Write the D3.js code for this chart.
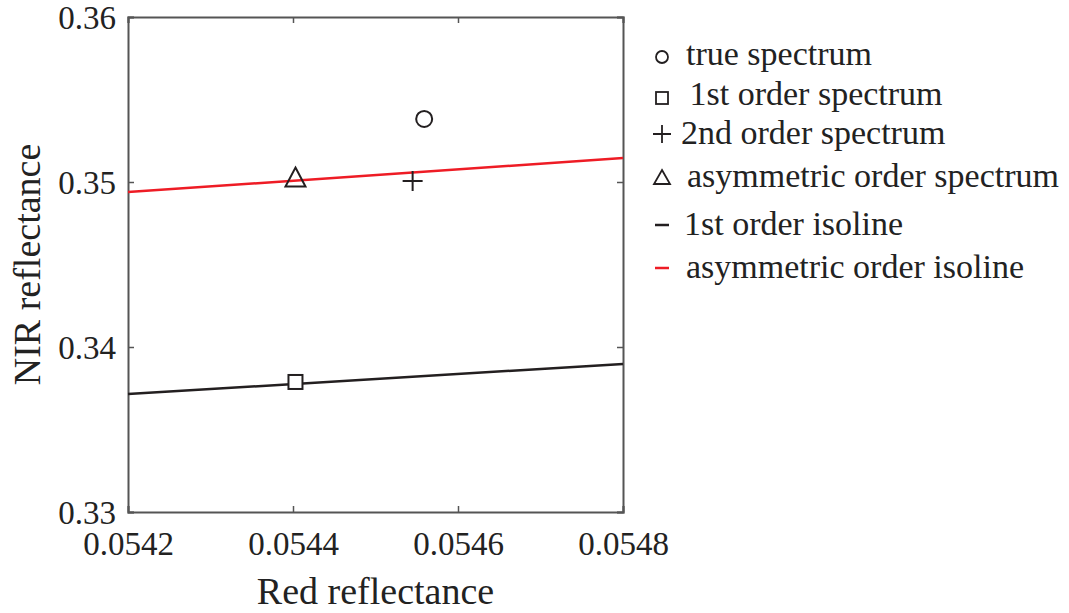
<!DOCTYPE html>
<html>
<head>
<meta charset="utf-8">
<script src="https://cdn.jsdelivr.net/npm/d3@7"></script>
<style>
  body { margin: 0; background: #fff; }
  text { font-family: "Liberation Serif", "Times New Roman", serif; fill: #222; }
</style>
</head>
<body>
<svg id="chart" width="1069" height="613"></svg>
<script>
// Spectrum points (red reflectance, NIR reflectance)
const trueSpectrum = [[0.054559, 0.35382]];
const firstOrderSpectrum = [[0.054403, 0.33788]];
const secondOrderSpectrum = [[0.054545, 0.35006]];
const asymmetricSpectrum = [[0.054403, 0.35015]];
// Isolines: endpoints across the red-reflectance range
const firstOrderIsoline = [[0.0542, 0.33715], [0.0548, 0.33897]];
const asymmetricIsoline = [[0.0542, 0.34939], [0.0548, 0.35145]];

const xTicks = [0.0542, 0.0544, 0.0546, 0.0548];
const yTicks = [0.33, 0.34, 0.35, 0.36];
const legendLabels = ["true spectrum", " 1st order spectrum", "2nd order spectrum",
  "asymmetric order spectrum", "1st order isoline", "asymmetric order isoline"];

const svg = d3.select("#chart");
const plotLeft = 128, plotRight = 623, plotTop = 17, plotBottom = 512;

const x = d3.scaleLinear().domain([0.0542, 0.0548]).range([plotLeft, plotRight]);
const y = d3.scaleLinear().domain([0.33, 0.36]).range([plotBottom, plotTop]);

const axisColor = "#555";
const tickLen = 6;

// Axes with inward ticks
const gx = svg.append("g").attr("transform", `translate(0,${plotBottom})`)
  .call(d3.axisBottom(x).tickValues(xTicks).tickSize(-tickLen).tickPadding(20)
    .tickFormat(d3.format(".4f")));
const gy = svg.append("g").attr("transform", `translate(${plotLeft},0)`)
  .call(d3.axisLeft(y).tickValues(yTicks).tickSize(-tickLen).tickPadding(12)
    .tickFormat(d3.format(".2f")));
const gxt = svg.append("g").attr("transform", `translate(0,${plotTop})`)
  .call(d3.axisTop(x).tickValues(xTicks).tickSize(-tickLen).tickFormat(""));
const gyr = svg.append("g").attr("transform", `translate(${plotRight},0)`)
  .call(d3.axisRight(y).tickValues(yTicks).tickSize(-tickLen).tickFormat(""));

[gx, gy, gxt, gyr].forEach(g => {
  g.select(".domain").attr("stroke", axisColor).attr("stroke-width", 2);
  g.selectAll(".tick line").attr("stroke", axisColor).attr("stroke-width", 1.5);
  g.selectAll(".tick text").attr("fill", "#222")
    .style("font-family", "'Liberation Serif', 'Times New Roman', serif")
    .style("font-size", "33px");
});
gx.selectAll(".tick text").attr("dy", "0.71em");
gy.selectAll(".tick text").attr("dy", "0.35em");

// Axis titles
svg.append("text").attr("x", (plotLeft + plotRight) / 2).attr("y", 604)
  .attr("text-anchor", "middle").style("font-size", "38px").text("Red reflectance");
svg.append("text").attr("transform", `translate(40,${(plotTop + plotBottom) / 2}) rotate(-90)`)
  .attr("text-anchor", "middle").style("font-size", "38px").text("NIR reflectance");

// Isolines
const line = d3.line().x(d => x(d[0])).y(d => y(d[1]));
svg.append("path").datum(firstOrderIsoline).attr("d", line)
  .attr("fill", "none").attr("stroke", "#231f20").attr("stroke-width", 2.5);
svg.append("path").datum(asymmetricIsoline).attr("d", line)
  .attr("fill", "none").attr("stroke", "#ee1c25").attr("stroke-width", 2.5);

// Markers
const mStroke = "#231f20";
function drawMarker(g, type, cx, cy) {
  if (type === "circle") {
    g.append("circle").attr("cx", cx).attr("cy", cy).attr("r", 8)
      .attr("fill", "none").attr("stroke", mStroke).attr("stroke-width", 2);
  } else if (type === "square") {
    g.append("rect").attr("x", cx - 7).attr("y", cy - 7).attr("width", 14).attr("height", 14)
      .attr("fill", "#fff").attr("stroke", mStroke).attr("stroke-width", 2);
  } else if (type === "plus") {
    g.append("path").attr("d", `M${cx - 10},${cy}H${cx + 10}M${cx},${cy - 10}V${cy + 10}`)
      .attr("stroke", mStroke).attr("stroke-width", 2);
  } else if (type === "triangle") {
    g.append("path").attr("d", `M${cx},${cy - 12}L${cx + 10},${cy + 7}L${cx - 10},${cy + 7}Z`)
      .attr("fill", "none").attr("stroke", mStroke).attr("stroke-width", 2);
  }
}
const marks = svg.append("g");
trueSpectrum.forEach(d => drawMarker(marks, "circle", x(d[0]), y(d[1])));
firstOrderSpectrum.forEach(d => drawMarker(marks, "square", x(d[0]), y(d[1])));
secondOrderSpectrum.forEach(d => drawMarker(marks, "plus", x(d[0]), y(d[1])));
asymmetricSpectrum.forEach(d => drawMarker(marks, "triangle", x(d[0]), y(d[1])));

// Legend
const legendY = [55, 95, 134, 177, 225, 268];
const legendTypes = ["circle", "square", "plus", "triangle", "line", "line"];
const legendColors = [null, null, null, null, "#231f20", "#ee1c25"];
const legendTextX = [686, 681, 681, 687, 684, 686];
const legend = svg.append("g");
legendLabels.forEach((lab, i) => {
  const cy = legendY[i];
  if (legendTypes[i] === "line") {
    legend.append("line").attr("x1", 655).attr("x2", 669).attr("y1", cy).attr("y2", cy)
      .attr("stroke", legendColors[i]).attr("stroke-width", 2.5);
  } else if (legendTypes[i] === "circle") {
    legend.append("circle").attr("cx", 662).attr("cy", cy + 2).attr("r", 6)
      .attr("fill", "none").attr("stroke", mStroke).attr("stroke-width", 1.8);
  } else if (legendTypes[i] === "square") {
    legend.append("rect").attr("x", 656).attr("y", cy - 3).attr("width", 12).attr("height", 12)
      .attr("fill", "none").attr("stroke", mStroke).attr("stroke-width", 1.8);
  } else if (legendTypes[i] === "plus") {
    legend.append("path").attr("d", `M${653},${cy}H${671}M${662},${cy - 9}V${cy + 9}`)
      .attr("stroke", mStroke).attr("stroke-width", 1.8);
  } else if (legendTypes[i] === "triangle") {
    legend.append("path").attr("d", `M662,${cy - 7}L670,${cy + 7}L654,${cy + 7}Z`)
      .attr("fill", "none").attr("stroke", mStroke).attr("stroke-width", 1.8);
  }
  legend.append("text").attr("x", legendTextX[i]).attr("y", cy).attr("dy", "0.3em")
    .style("font-size", "34px").style("white-space", "pre").attr("xml:space", "preserve").text(lab);
});
</script>
</body>
</html>
